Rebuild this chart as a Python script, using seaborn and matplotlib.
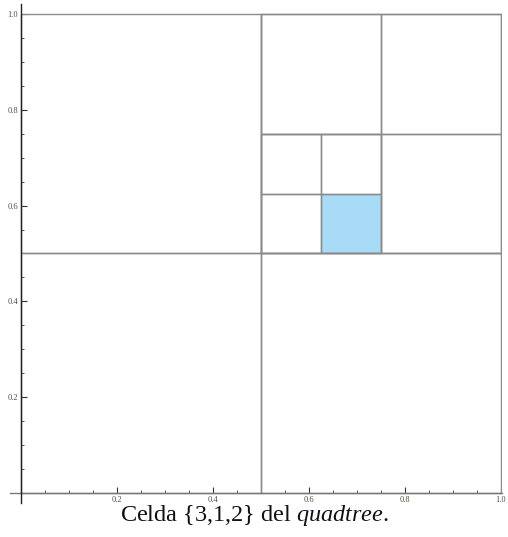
import numpy as np
import pandas as pd
import seaborn as sns
import matplotlib
matplotlib.use("Agg")
import matplotlib.pyplot as plt
from matplotlib.ticker import MultipleLocator

# Quadtree cells: lower-left corner and side length
cell_x0 = [0.0, 0.0, 0.5, 0.5, 0.5, 0.75, 0.5, 0.75, 0.5, 0.625, 0.5, 0.625]
cell_y0 = [0.0, 0.5, 0.0, 0.5, 0.75, 0.75, 0.5, 0.5, 0.625, 0.625, 0.5, 0.5]
cell_size = [0.5, 0.5, 0.5, 0.5, 0.25, 0.25, 0.25, 0.25, 0.125, 0.125, 0.125, 0.125]
highlight_cell = (0.625, 0.5, 0.125)  # Celda {3,1,2}

x_ticks = [0.2, 0.4, 0.6, 0.8, 1.0]
y_ticks = [0.2, 0.4, 0.6, 0.8, 1.0]
tick_labels = ["0.2", "0.4", "0.6", "0.8", "1.0"]
caption_plain = "Celda {3,1,2} del "
caption_italic = "quadtree"

sns.set_theme(style="white")
plt.rcParams["font.family"] = ["Liberation Serif", "DejaVu Serif"]
plt.rcParams["mathtext.fontset"] = "custom"
plt.rcParams["mathtext.rm"] = "Liberation Serif"
plt.rcParams["mathtext.it"] = "Liberation Serif:italic"

fig = plt.figure(figsize=(5.08, 5.37), dpi=100)
ax = fig.add_axes([10 / 508, (537 - 503) / 537, 492 / 508, 499 / 537])

# outlines of the cells
rows = []
for i, (x0, y0, s) in enumerate(zip(cell_x0, cell_y0, cell_size)):
    xs = [x0, x0 + s, x0 + s, x0, x0]
    ys = [y0, y0, y0 + s, y0 + s, y0]
    for k, (xx, yy) in enumerate(zip(xs, ys)):
        rows.append({"cell": i, "order": k, "x": xx, "y": yy})
df = pd.DataFrame(rows)

hx, hy, hs = highlight_cell
ax.fill([hx, hx + hs, hx + hs, hx], [hy, hy, hy + hs, hy + hs],
        color="#a8dbf6", lw=0, zorder=1)

sns.lineplot(data=df, x="x", y="y", units="cell", estimator=None, sort=False,
             color="#8c8c8c", lw=1.0, ax=ax, zorder=2, legend=False)

ax.set_xlim(-0.023, 1.003)
ax.set_ylim(-0.021, 1.021)
ax.set_xlabel("")
ax.set_ylabel("")

for side in ["top", "right"]:
    ax.spines[side].set_visible(False)
ax.spines["left"].set_position(("data", 0))
ax.spines["bottom"].set_position(("data", 0))
ax.spines["left"].set_color("#222222")
ax.spines["bottom"].set_color("#777777")
ax.spines["left"].set_linewidth(1.0)
ax.spines["bottom"].set_linewidth(1.0)
ax.spines["left"].set_zorder(3)

ax.set_xticks(x_ticks)
ax.set_xticklabels(tick_labels)
ax.set_yticks(y_ticks)
ax.set_yticklabels(tick_labels)
ax.xaxis.set_minor_locator(MultipleLocator(0.05))
ax.yaxis.set_minor_locator(MultipleLocator(0.05))
ax.tick_params(axis="both", which="major", direction="in", length=4, width=0.8,
               color="#333333", labelsize=6, labelcolor="#5a4a40", pad=2,
               bottom=True, left=True)
ax.tick_params(axis="both", which="minor", direction="in", length=2.5, width=0.6,
               color="#333333", bottom=True, left=True)
ax.grid(False)

fig.text(0.5, 21 / 537, caption_plain + r"$\mathit{" + caption_italic + r"}$.",
         ha="center", va="center", fontsize=17.5, color="#111111")

fig.savefig("out.png", dpi=100, facecolor="white")
